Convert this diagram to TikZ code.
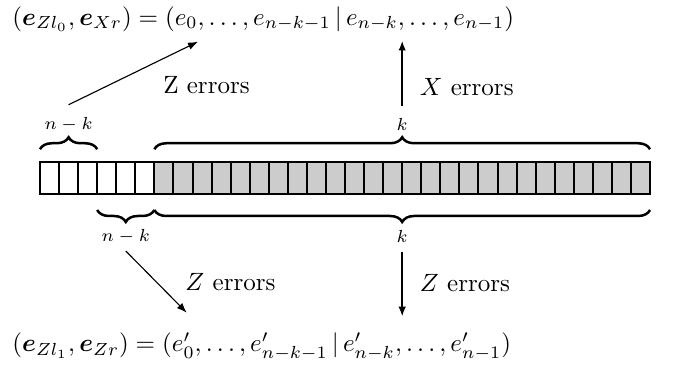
\documentclass[tikz,border=0pt]{standalone}
\usepackage{amsmath}
\usepackage{amssymb}
\usepackage{tikz}
\usetikzlibrary{arrows.meta,calc,decorations.pathreplacing,positioning}
\definecolor{ECGray}{HTML}{CCCCCC}
\tikzset{
  ecCell/.style={
    rectangle, draw=black, fill=#1, line width=0.8pt,
    minimum width=7.625pt, minimum height=13pt, inner sep=0pt, outer sep=0pt
  },
  ecCell/.default=white,
  ecBrace/.style={
    draw=black, line width=1pt, decorate,
    decoration={brace, amplitude=4.8pt, raise=#1}
  },
  ecBrace/.default=5pt,
  ecBraceLow/.style={
    draw=black, line width=1pt, decorate,
    decoration={brace, mirror, amplitude=4.8pt, raise=#1}
  },
  ecBraceLow/.default=6.3pt,
  ecLabel/.style={inner sep=0pt, font=\scriptsize},
  ecNote/.style={inner sep=0pt},
  ecEq/.style={inner sep=0pt, anchor=west},
  ecThin/.style={-{Latex[length=4pt,width=3pt]}, line width=0.45pt},
  ecThick/.style={-{Latex[length=4pt,width=3pt]}, line width=0.8pt}
}

\begin{document}
\begin{tikzpicture}[x=0.4pt, y=0.4pt]
  \useasboundingbox (0,0) rectangle (678,365);

  \foreach \i in {0,...,5}
    \node[ecCell] (c\i) at ({40+19.0625*(\i+0.5)},187) {};
  \foreach \i in {6,...,31}
    \node[ecCell=ECGray] (c\i) at ({40+19.0625*(\i+0.5)},187) {};

  \draw[ecBrace] (c0.north west) -- node[ecLabel, yshift=14.8pt] (nkTop) {$n-k$} (c2.north east);
  \draw[ecBrace] (c6.north west) -- node[ecLabel, yshift=14.9pt] (kTop) {$k$} (c31.north east);
  \draw[ecBraceLow] (c3.south west) -- node[ecLabel, yshift=-17pt] (nkBot) {$n-k$} (c5.south east);
  \draw[ecBraceLow] (c6.south west) -- node[ecLabel, yshift=-17pt] (kBot) {$k$} (c31.south east);

  \node[ecEq] (eqTop) at (12,346)
    {$(\boldsymbol{e}_{Zl_0}, \boldsymbol{e}_{Xr}) = (e_0, \ldots, e_{n-k-1} \,|\, e_{n-k}, \ldots, e_{n-1})$};
  \node[ecEq] (eqBot) at (12,18)
    {$(\boldsymbol{e}_{Zl_1}, \boldsymbol{e}_{Zr}) = (e'_0, \ldots, e'_{n-k-1} \,|\, e'_{n-k}, \ldots, e'_{n-1})$};

  \node[ecNote] (zTop) at (206.5,280) {Z errors};
  \node[ecNote] (xTop) at (466.7,278.3) {$X$ errors};
  \node[ecNote] (zBotL) at (230.5,83.3) {$Z$ errors};
  \node[ecNote] (zBotR) at (465,82) {$Z$ errors};

  \coordinate (zTopTip) at (198,323.3);
  \coordinate (zBotTip) at (186.7,52.3);
  \path (kTop.center) ++(0,84) coordinate (xTip);
  \path (kBot.center) ++(0,-80) coordinate (zDownTip);

  \draw[ecThin] ([yshift=8pt]nkTop.center) -- (zTopTip);
  \draw[ecThick] ([yshift=7.5pt]kTop.center) -- (xTip);
  \draw[ecThin] ([yshift=-5.7pt]nkBot.center) -- (zBotTip);
  \draw[ecThick] ([yshift=-6pt]kBot.center) -- (zDownTip);
\end{tikzpicture}
\end{document}
